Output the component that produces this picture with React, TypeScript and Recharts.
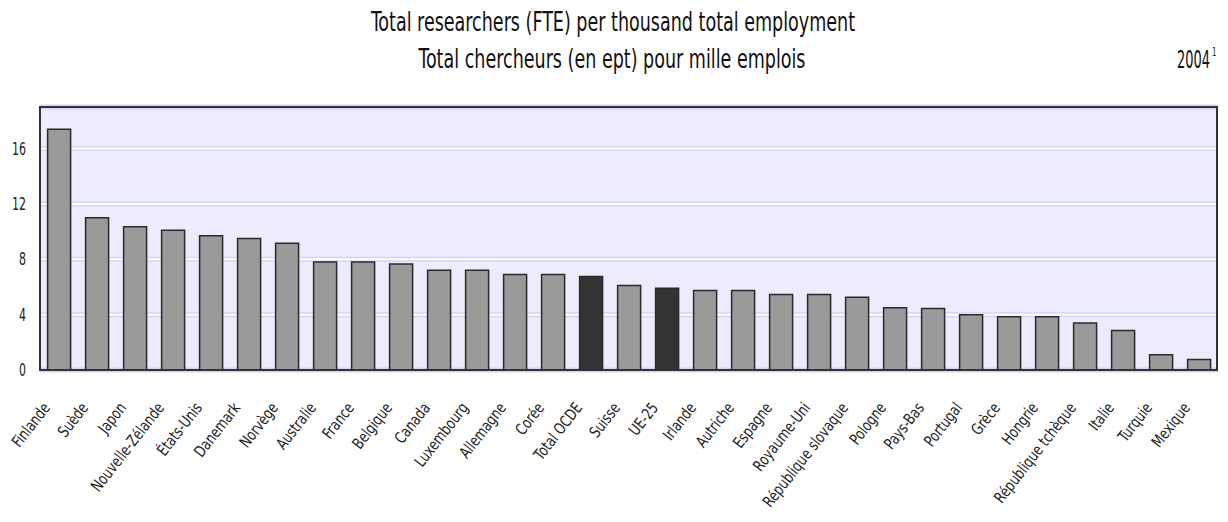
import React from "react";
import { BarChart, Bar, XAxis, YAxis, CartesianGrid, Cell } from "recharts";

const countries = [
  "Finlande", "Suède", "Japon", "Nouvelle-Zélande", "États-Unis", "Danemark", "Norvège",
  "Australie", "France", "Belgique", "Canada", "Luxembourg", "Allemagne", "Corée",
  "Total OCDE", "Suisse", "UE-25", "Irlande", "Autriche", "Espagne", "Royaume-Uni",
  "République slovaque", "Pologne", "Pays-Bas", "Portugal", "Grèce", "Hongrie",
  "République tchèque", "Italie", "Turquie", "Mexique",
];

const researchers = [
  17.4, 11.0, 10.35, 10.1, 9.7, 9.5, 9.15,
  7.8, 7.8, 7.65, 7.2, 7.2, 6.9, 6.9,
  6.75, 6.1, 5.9, 5.75, 5.75, 5.45, 5.45,
  5.25, 4.5, 4.45, 4.0, 3.85, 3.85,
  3.4, 2.85, 1.1, 0.75,
];

const aggregates = ["Total OCDE", "UE-25"];
const yTicks = [0, 4, 8, 12, 16];

const FONT = "'DejaVu Sans Condensed', 'Liberation Sans Narrow', sans-serif";

const data = countries.map((name, i) => ({ name, value: researchers[i] }));

// rotated, narrowed country labels
const CountryTick = ({ x, y, payload }: any) => (
  <g transform={`translate(${x - 8},${y + 30})`}>
    <text
      x={0}
      y={0}
      textAnchor="end"
      transform="rotate(-52) scale(0.85,1)"
      fontSize={16}
      fontFamily={FONT}
      fill="#222"
    >
      {payload.value}
    </text>
  </g>
);

const ValueTick = ({ x, y, payload }: any) => (
  <g transform={`translate(${x},${y})`}>
    <text x={0} y={0} dy={6} textAnchor="end" transform="scale(0.68,1)" fontSize={18} fontFamily={FONT} fill="#222">
      {payload.value}
    </text>
  </g>
);

export default function App() {
  return (
    <div style={{ position: "absolute", left: 0, top: 0, width: 1228, height: 522, background: "#fff" }}>
      <svg width={1228} height={100} style={{ position: "absolute", left: 0, top: 0 }}>
        <g transform="translate(613,31) scale(0.75,1)">
          <text textAnchor="middle" fontSize={26} fontFamily={FONT} fill="#111">
            Total researchers (FTE) per thousand total employment
          </text>
        </g>
        <g transform="translate(612,68) scale(0.75,1)">
          <text textAnchor="middle" fontSize={26} fontFamily={FONT} fill="#111">
            Total chercheurs (en ept) pour mille emplois
          </text>
        </g>
        <g transform="translate(1210,68) scale(0.6,1)">
          <text textAnchor="end" fontSize={24} fontFamily={FONT} fill="#111">2004</text>
        </g>
        <g transform="translate(1212,56) scale(0.6,1)">
          <text textAnchor="start" fontSize={13} fontFamily={FONT} fill="#111">1</text>
        </g>
      </svg>
      <div style={{ position: "absolute", left: 0, top: 0 }}>
        <BarChart
          width={1228}
          height={522}
          data={data}
          margin={{ top: 107, right: 10, left: 0, bottom: 0 }}
          barCategoryGap="20%"
        >
          <CartesianGrid vertical={false} stroke="#d4d4f6" strokeWidth={5} fill="#ececfc" />
          <CartesianGrid vertical={false} stroke="#ffffff" strokeWidth={2} />
          <XAxis
            dataKey="name"
            interval={0}
            tick={<CountryTick />}
            tickLine={false}
            axisLine={{ stroke: "#333", strokeWidth: 2 }}
            height={152}
          />
          <YAxis
            domain={[0, 19]}
            ticks={yTicks}
            tickLine={false}
            tickSize={4}
            tickMargin={10}
            axisLine={{ stroke: "#333", strokeWidth: 2 }}
            width={40}
            tick={<ValueTick />}
          />
          <Bar dataKey="value" isAnimationActive={false} stroke="#2a2a2a" strokeWidth={1.5}>
            {data.map((d) => (
              <Cell key={d.name} fill={aggregates.includes(d.name) ? "#333333" : "#9a9a9a"} />
            ))}
          </Bar>
        </BarChart>
      </div>
      <div
        style={{
          position: "absolute",
          left: 39,
          top: 106,
          width: 1179,
          height: 265,
          boxSizing: "border-box",
          border: "2px solid #333",
          pointerEvents: "none",
        }}
      />
    </div>
  );
}
